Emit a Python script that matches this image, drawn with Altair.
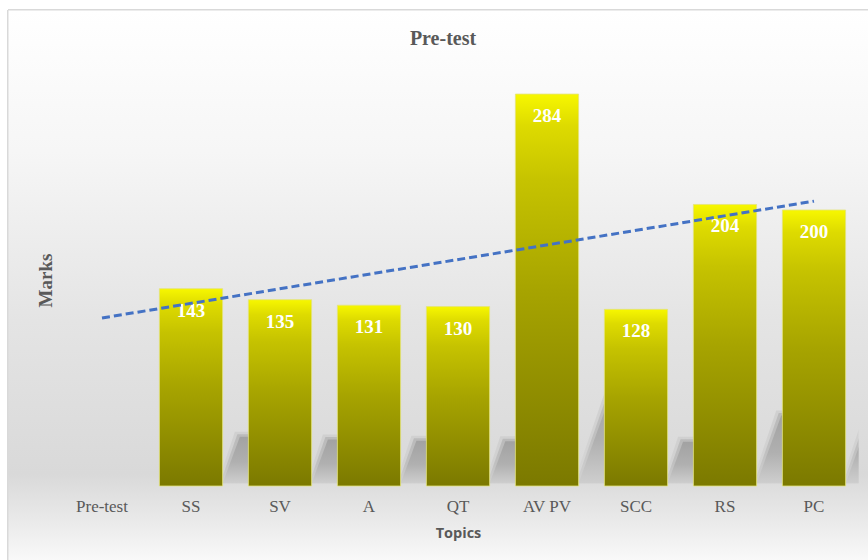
import altair as alt
import numpy as np
import pandas as pd

# Categories on the x axis (the first slot carries no bar)
categories = ["Pre-test", "SS", "SV", "A", "QT", "AV PV", "SCC", "RS", "PC"]
topics = ["SS", "SV", "A", "QT", "AV PV", "SCC", "RS", "PC"]
marks = [143, 135, 131, 130, 284, 128, 204, 200]

bars_df = pd.DataFrame({"Topic": topics, "Marks": marks})

# Linear trend fitted over the topic positions, extended back to the first slot
pos = np.arange(1, len(marks) + 1)
slope, intercept = np.polyfit(pos, marks, 1)
trend_df = pd.DataFrame({
    "Topic": [categories[0], categories[-1]],
    "Trend": [intercept + slope * 0, intercept + slope * (len(categories) - 1)],
})

W, H = 801, 414
PAD_L, PAD_T = 57.5, 72
Y_MAX = 300
PAD_INNER = 0.29
STEP_PX = W / len(categories)
PX_PER_MARK = H / Y_MAX

# Cast-shadow outlines, built in slot units (slot i spans [i, i+1]) from each bar's value
rows = []
for i, (t, v) in enumerate(zip(topics, marks), start=1):
    right = i + 0.5 + (1 - PAD_INNER) / 2
    top = 0.25 * v
    lean = 0.35 * top * PX_PER_MARK / STEP_PX
    for grow, layer in [(5.0, "haze"), (2.5, "soft"), (0.0, "core")]:
        g = grow / STEP_PX
        rows += [
            {"Topic": t, "layer": layer, "sx": right - g, "sy": 2.0, "sy2": 2.0},
            {"Topic": t, "layer": layer, "sx": right + lean - g,
             "sy": top + grow / PX_PER_MARK, "sy2": 2.0},
            {"Topic": t, "layer": layer, "sx": right + 0.7,
             "sy": top + grow / PX_PER_MARK, "sy2": 2.0},
        ]
shadow_df = pd.DataFrame(rows)

x_scale = alt.Scale(domain=categories, paddingInner=PAD_INNER, paddingOuter=PAD_INNER / 2)
y_scale = alt.Scale(domain=[0, Y_MAX], nice=False)
slot_scale = alt.Scale(domain=[0, len(categories)], nice=False, zero=False)

x_enc = alt.X("Topic:N", scale=x_scale, sort=categories,
              axis=alt.Axis(title="Topics", labelAngle=0, domain=False, ticks=False,
                            grid=False, labelFont="Liberation Serif", labelFontSize=17,
                            labelColor="#595959", labelPadding=12, zindex=2,
                            titleFont="Open Sans", titleFontSize=14.5, titleFontWeight="bold",
                            titleColor="#595959", titleY=47, titleBaseline="middle"))
y_enc = alt.Y("Marks:Q", scale=y_scale,
              axis=alt.Axis(title="Marks", labels=False, ticks=False, domain=False, grid=False,
                            zindex=2,
                            titleFont="Liberation Serif", titleFontSize=19, titleFontWeight="bold",
                            titleColor="#595959", titleAngle=270, titleX=-12.5, titleY=208,
                            titleAlign="center", titleBaseline="middle"))

# Soft grey backdrop for the whole chart area, with a thin frame
backdrop = alt.Chart(bars_df).mark_rect(
    fill=alt.Gradient(
        gradient="linear", x1=0, x2=0, y1=0, y2=1,
        stops=[
            alt.GradientStop(color="#ffffff", offset=0),
            alt.GradientStop(color="#f6f6f6", offset=0.25),
            alt.GradientStop(color="#e4e4e4", offset=0.55),
            alt.GradientStop(color="#d9d9d9", offset=0.82),
            alt.GradientStop(color="#e9e9e9", offset=0.9),
            alt.GradientStop(color="#ffffff", offset=1),
        ],
    ),
    stroke="#d9d9d9", strokeWidth=1,
).encode(
    x=alt.value(8 - PAD_L), x2=alt.value(W + 40),
    y=alt.value(10 - PAD_T), y2=alt.value(H + 90),
)

def vgrad(top_color, mid_color, bottom_color):
    return alt.Gradient(gradient="linear", x1=0, x2=0, y1=0, y2=1, stops=[
        alt.GradientStop(color=top_color, offset=0),
        alt.GradientStop(color=mid_color, offset=0.55),
        alt.GradientStop(color=bottom_color, offset=1)])

shadow_fill = {
    "haze": vgrad("#d0d0d0", "#d2d2d2", "#d8d8d8"),
    "soft": vgrad("#bababa", "#c0c0c0", "#d2d2d2"),
    "core": vgrad("#a2a2a2", "#b0b0b0", "#cecece"),
}
shadows = alt.layer(*[
    alt.Chart(shadow_df).transform_filter(alt.datum.layer == name).mark_area(
        fill=shadow_fill[name], clip=True, interpolate="linear",
    ).encode(
        x=alt.X("sx:Q", scale=slot_scale, axis=None),
        y=alt.Y("sy:Q", scale=y_scale),
        y2="sy2:Q",
        detail="Topic:N",
    )
    for name in ["haze", "soft", "core"]
])

bar_fill = alt.Gradient(
    gradient="linear", x1=0, x2=0, y1=0, y2=1,
    stops=[
        alt.GradientStop(color="#f7f700", offset=0),
        alt.GradientStop(color="#dedb00", offset=0.08),
        alt.GradientStop(color="#c6c300", offset=0.22),
        alt.GradientStop(color="#a7a400", offset=0.5),
        alt.GradientStop(color="#7b7900", offset=1),
    ],
)

bars = alt.Chart(bars_df).mark_bar(
    fill=bar_fill, stroke="#e4e47a", strokeWidth=1, strokeOpacity=0.8,
).encode(x=x_enc, y=y_enc)

labels = alt.Chart(bars_df).mark_text(
    color="white", font="Liberation Serif", fontSize=19, fontWeight="bold",
    baseline="middle", dy=22,
).encode(x=alt.X("Topic:N", scale=x_scale, sort=categories), y=alt.Y("Marks:Q", scale=y_scale),
         text="Marks:Q")

trend = alt.Chart(trend_df).mark_line(
    color="#4472C4", strokeWidth=3, strokeDash=[8, 4],
).encode(x=alt.X("Topic:N", scale=x_scale, sort=categories), y=alt.Y("Trend:Q", scale=y_scale))

front = alt.layer(bars, labels, trend)

chart = alt.layer(backdrop, shadows, front).resolve_scale(x="independent").properties(
    width=W, height=H,
    title=alt.TitleParams("Pre-test", font="Liberation Serif", fontSize=20, fontWeight="bold",
                          color="#595959", anchor="middle", dx=-15, offset=-39, zindex=2),
    padding={"left": PAD_L, "top": PAD_T, "right": 868 - PAD_L - W, "bottom": 560 - PAD_T - H},
    autosize=alt.AutoSizeParams(type="none"),
).configure_view(stroke=None).configure(background="white")

chart.save("out.html", embed_options={"renderer": "svg", "actions": False})
